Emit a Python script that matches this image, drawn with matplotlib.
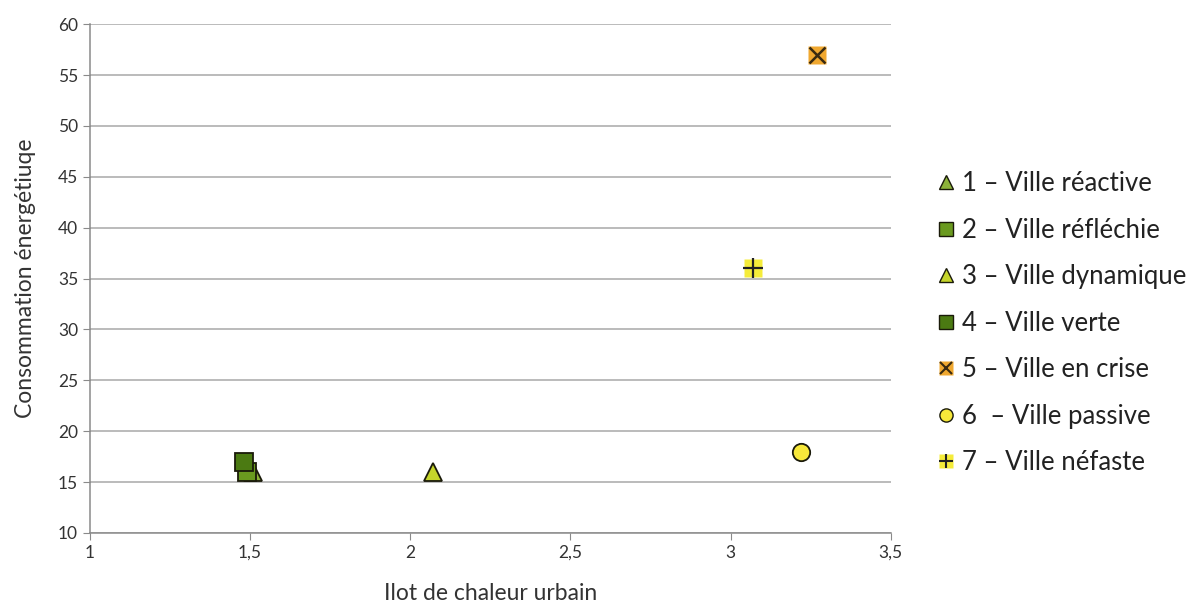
import matplotlib
matplotlib.use("Agg")
import matplotlib.pyplot as plt
from matplotlib.lines import Line2D
from matplotlib.legend_handler import HandlerTuple

plt.rcParams['font.family'] = ['Lato', 'DejaVu Sans']

labels = ["1 – Ville réactive", "2 – Ville réfléchie", "3 – Ville dynamique",
          "4 – Ville verte", "5 – Ville en crise", "6  – Ville passive", "7 – Ville néfaste"]
x_vals = [1.51, 1.49, 2.07, 1.48, 3.27, 3.22, 3.07]
y_vals = [16, 16, 16, 17, 57, 18, 36]
face_colors = ["#8db33a", "#6a9a1f", "#c5d52b", "#4b7a12", "#f0a830", "#f7e83a", "#f5ec3a"]
x_ticks = [1, 1.5, 2, 2.5, 3, 3.5]
x_tick_labels = ["1", "1,5", "2", "2,5", "3", "3,5"]
y_ticks = [10, 15, 20, 25, 30, 35, 40, 45, 50, 55, 60]

fig = plt.figure(figsize=(11.99, 6.06), dpi=100)
ax = fig.add_axes([0.075, 0.1205, 0.668, 0.8395])

styles = ["^", "s", "^", "s", "xs", "o", "+s"]
handles = []
for i, (x, y, c, st) in enumerate(zip(x_vals, y_vals, face_colors, styles)):
    z = 3 + i
    if st == "xs":
        ax.plot([x], [y], marker="s", ms=13, mfc=c, mec="none", ls="none", zorder=z)
        ax.plot([x], [y], marker="x", ms=12, mec="#3a2a10", mew=1.8, ls="none", zorder=z + 0.5)
        h = (Line2D([], [], marker="s", ms=10, mfc=c, mec="none", ls="none"),
             Line2D([], [], marker="x", ms=8, mec="#3a2a10", mew=1.5, ls="none"))
    elif st == "+s":
        ax.plot([x], [y], marker="s", ms=13, mfc=c, mec="none", ls="none", zorder=z)
        ax.plot([x], [y], marker="+", ms=14, mec="#222222", mew=1.6, ls="none", zorder=z + 0.5)
        h = (Line2D([], [], marker="s", ms=10, mfc=c, mec="none", ls="none"),
             Line2D([], [], marker="+", ms=10, mec="#222222", mew=1.5, ls="none"))
    else:
        ms = 13 if st != "o" else 12.5
        ax.plot([x], [y], marker=st, ms=ms, mfc=c, mec="#1a1a0a", mew=1.3, ls="none", zorder=z)
        h = Line2D([], [], marker=st, ms=9.5, mfc=c, mec="#1a1a0a", mew=1.0, ls="none")
    handles.append(h)

ax.set_xlim(1, 3.5)
ax.set_ylim(10, 60)
ax.set_xticks(x_ticks)
ax.set_xticklabels(x_tick_labels)
ax.set_yticks(y_ticks)
ax.grid(axis="y", color="#a8a8a8", lw=1.1)
ax.set_axisbelow(True)
for s in ["top", "right"]:
    ax.spines[s].set_visible(False)
for s in ["left", "bottom"]:
    ax.spines[s].set_color("#8a8a8a")
    ax.spines[s].set_linewidth(1.1)
ax.tick_params(axis="both", labelsize=12.5, colors="#8a8a8a", labelcolor="#333333", length=5)
ax.set_xlabel("Ilot de chaleur urbain", fontsize=16.5, color="#333333", labelpad=16)
ax.set_ylabel("Consommation énergétiuqe", fontsize=16.5, color="#333333", labelpad=16)

fig.legend(handles, labels, loc="upper left", bbox_to_anchor=(0.761, 0.756),
           frameon=False, fontsize=18.5, labelspacing=0.84, handlelength=0.8,
           handletextpad=0.22, handler_map={tuple: HandlerTuple(ndivide=1)},
           labelcolor="#222222")

fig.savefig("out.png", dpi=100, facecolor="white")
